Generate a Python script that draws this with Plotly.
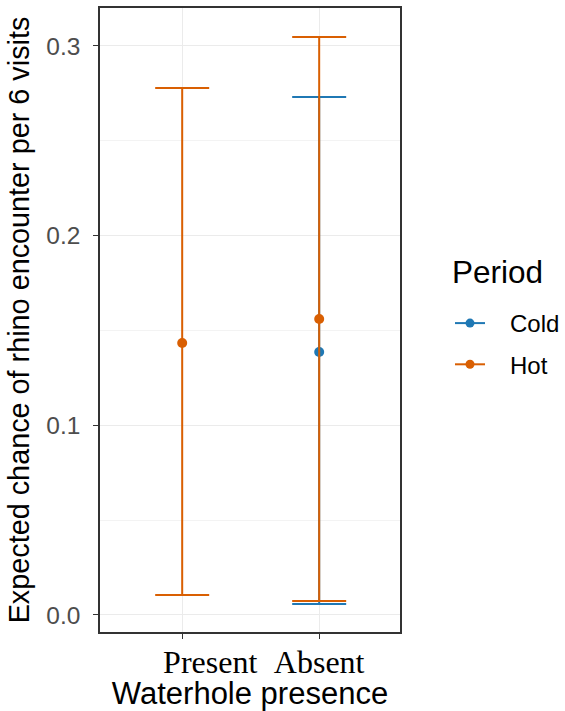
import plotly.graph_objects as go

# Data
categories = ["Present", "Absent"]
tick_labels = ["\u00a0" * 7 + "Present", "Absent"]
y_tick_vals = [0.0, 0.1, 0.2, 0.3]
y_tick_labels = ["0.0", "0.1", "0.2", "0.3"]
periods = ["Cold", "Hot"]
cold_x = ["Absent"]
cold_mean = [0.1386]
cold_lower = [0.0058]
cold_upper = [0.2731]
hot_x = ["Present", "Absent"]
hot_mean = [0.1434, 0.1560]
hot_lower = [0.0105, 0.0074]
hot_upper = [0.2778, 0.3047]

colors = {"Cold": "#1F78B4", "Hot": "#D95F02"}
series = {
    "Cold": (cold_x, cold_mean, cold_lower, cold_upper),
    "Hot": (hot_x, hot_mean, hot_lower, hot_upper),
}

fig = go.Figure()
for p in periods:
    xs, m, lo, hi = series[p]
    fig.add_trace(go.Scatter(
        x=xs, y=m, mode="markers", name=p, showlegend=False, legendgroup=p,
        marker=dict(color=colors[p], size=10),
        error_y=dict(type="data", symmetric=False,
                     array=[h - v for h, v in zip(hi, m)],
                     arrayminus=[v - l for v, l in zip(m, lo)],
                     color=colors[p], thickness=2, width=27),
    ))
# legend entries (point + line, as in the ggplot key)
for p in periods:
    fig.add_trace(go.Scatter(
        x=[None], y=[None], mode="lines+markers", name="\u00a0\u00a0\u00a0" + p, legendgroup=p,
        line=dict(color=colors[p], width=2),
        marker=dict(color=colors[p], size=9),
    ))

fig.add_annotation(
    text="Period", xref="paper", yref="paper",
    x=(450 - 100) / 300, y=(632 - 272) / 624, xanchor="left", yanchor="middle",
    showarrow=False, font=dict(size=31.5, color="black"),
)

fig.update_layout(
    width=565, height=711,
    margin=dict(l=100, r=165, t=8, b=79, autoexpand=False),
    paper_bgcolor="white", plot_bgcolor="white",
    font=dict(family="Liberation Sans, Arial", color="black"),
    showlegend=True,
    legend=dict(
        font=dict(size=24, color="black"),
        x=(450 - 100) / 300, xanchor="left", y=(632 - 301) / 624, yanchor="top",
        itemwidth=30, tracegroupgap=7,
        bgcolor="rgba(0,0,0,0)",
    ),
    xaxis=dict(
        type="category", categoryorder="array", categoryarray=categories,
        tickvals=categories, ticktext=tick_labels,
        range=[-0.6, 1.59], automargin=False,
        showgrid=True, gridcolor="#EBEBEB", gridwidth=1,
        showline=True, mirror=True, linecolor="#333333", linewidth=1.5,
        ticks="outside", ticklen=5, tickcolor="#333333", tickwidth=1.2,
        ticklabelstandoff=-4,
        tickfont=dict(family="Liberation Serif, Times New Roman", size=32, color="black"),
        title=dict(text="Waterhole presence", font=dict(size=31, color="black"), standoff=6),
        zeroline=False,
    ),
    yaxis=dict(
        range=[-0.009, 0.320], automargin=False,
        tickvals=y_tick_vals, ticktext=y_tick_labels,
        showgrid=True, gridcolor="#EBEBEB", gridwidth=1,
        minor=dict(tickvals=[0.05, 0.15, 0.25], showgrid=True, gridcolor="#F3F3F3", gridwidth=1, ticks=""),
        showline=True, mirror=True, linecolor="#333333", linewidth=1.5,
        ticks="outside", ticklen=5, tickcolor="#333333", tickwidth=1.2,
        ticklabelstandoff=8,
        tickfont=dict(size=24.5, color="#4D4D4D"),
        title=dict(text="Expected chance of rhino encounter per 6 visits", font=dict(size=28.8, color="black"), standoff=8),
        zeroline=False,
    ),
)

fig.write_html(
    "out.html",
    config={"displayModeBar": False},
    post_script=(
        "document.body.style.margin='0';"
        "document.body.style.overflow='hidden';"
        "document.documentElement.style.overflow='hidden';"
    ),
)
